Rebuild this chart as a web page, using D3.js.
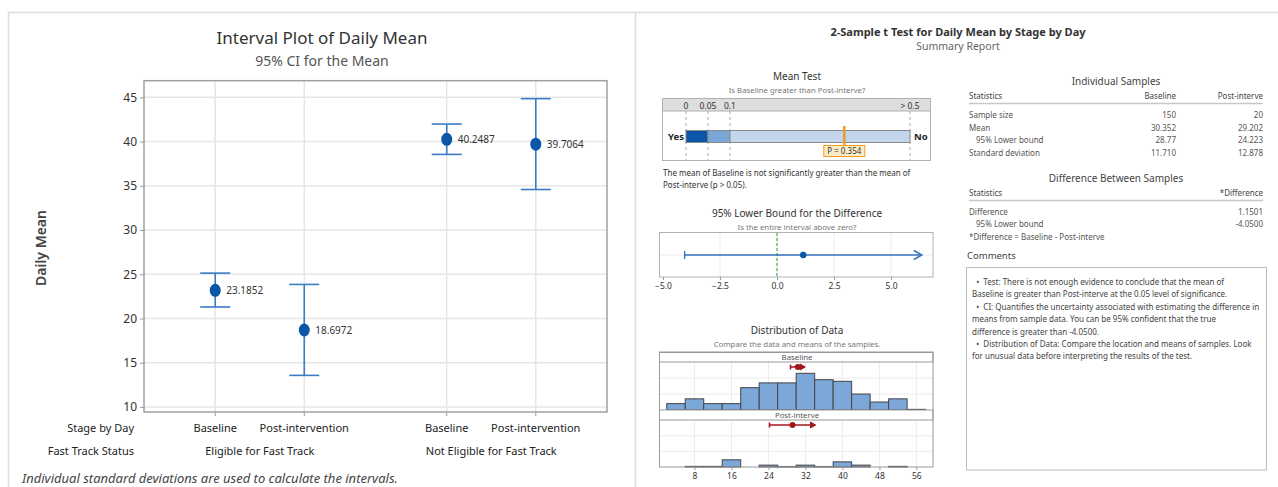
<!DOCTYPE html>
<html>
<head>
<meta charset="utf-8">
<script src="https://cdn.jsdelivr.net/npm/d3@7/dist/d3.min.js"></script>
<style>
  body { margin: 0; background: #fff; }
  svg { display: block; font-family: "Noto Sans", "Open Sans", sans-serif; }
</style>
</head>
<body>
<svg id="chart" width="1278" height="487"></svg>
<script>
// ---- interval plot data ----
var groups = ["Eligible for Fast Track", "Not Eligible for Fast Track"];
var stages = ["Baseline", "Post-intervention"];
var means = [23.1852, 18.6972, 40.2487, 39.7064];
var ciLow = [21.30, 13.57, 38.55, 34.58];
var ciHigh = [25.13, 23.85, 41.98, 44.85];
var yTicks = [10, 15, 20, 25, 30, 35, 40, 45];

// ---- summary report data ----
var pValue = 0.354;
var pTicks = [0, 0.05, 0.1, 0.5];
var pTickLabels = ["0", "0.05", "0.1", "> 0.5"];
var diffEst = 1.1501;
var diffLower = -4.0500;
var diffTicks = [-5, -2.5, 0, 2.5, 5];
var sampleNames = ["Baseline", "Post-interve"];
var sampleMeans = [30.352, 29.202];
var sampleLower = [28.77, 24.223];
var binEdges = [2, 6, 10, 14, 18, 22, 26, 30, 34, 38, 42, 46, 50, 54, 58];
var baselineCounts = [4, 7, 4, 4, 14, 17, 17, 23, 19, 18, 10, 5, 7, 0.4];
var postCounts = [0, 0.4, 0.4, 4.6, 0, 1.2, 0.2, 1.2, 0.2, 3.3, 1.2, 0, 0.4, 0];
var histTicks = [8, 16, 24, 32, 40, 48, 56];
var histGrid = [10, 20];

var statNames = ["Sample size", "Mean", "95% Lower bound", "Standard deviation"];
var baselineStats = ["150", "30.352", "28.77", "11.710"];
var postStats = ["20", "29.202", "24.223", "12.878"];
var diffNames = ["Difference", "95% Lower bound"];
var diffStats = ["1.1501", "-4.0500"];

var comments = [
  "  \u2022  Test: There is not enough evidence to conclude that the mean of",
  "Baseline is greater than Post-interve at the 0.05 level of significance.",
  "  \u2022  CI: Quantifies the uncertainty associated with estimating the difference in",
  "means from sample data. You can be 95% confident that the true",
  "difference is greater than -4.0500.",
  "  \u2022  Distribution of Data: Compare the location and means of samples. Look",
  "for unusual data before interpreting the results of the test."
];

var svg = d3.select("#chart");
svg.append("rect").attr("width", 1278).attr("height", 487).attr("fill", "#fff");

// panel borders
svg.append("path")
  .attr("d", "M8.5,487V12.5H635.5V487")
  .attr("fill", "none").attr("stroke", "#dcdcdc").attr("stroke-width", 1.5);
svg.append("line").attr("x1", 635).attr("x2", 1278).attr("y1", 12.5).attr("y2", 12.5)
  .attr("stroke", "#dcdcdc").attr("stroke-width", 1.5);

// ================= Interval plot =================
var plotL = 144, plotR = 607, plotT = 80.7, plotB = 412;

var xGroup = d3.scaleBand().domain(groups).range([plotL, plotR]);
var xStage = d3.scalePoint().domain(stages).range([0, xGroup.bandwidth()]).padding(0.8);
var y = d3.scaleLinear().domain([9.43, 46.88]).range([plotB, plotT]);

var points = means.map(function(m, i) {
  return { group: groups[Math.floor(i / 2)], stage: stages[i % 2], mean: m, lo: ciLow[i], hi: ciHigh[i] };
});
function px(d) { return xGroup(d.group) + xStage(d.stage); }

var left = svg.append("g");

left.append("text").attr("x", 322).attr("y", 44).attr("text-anchor", "middle")
  .style("font-size", "17px").attr("fill", "#333").text("Interval Plot of Daily Mean");
left.append("text").attr("x", 322).attr("y", 66).attr("text-anchor", "middle")
  .style("font-size", "14px").attr("fill", "#555").text("95% CI for the Mean");

// grid
left.selectAll(".hg").data(yTicks).enter().append("line")
  .attr("x1", plotL).attr("x2", plotR)
  .attr("y1", function(d) { return y(d); }).attr("y2", function(d) { return y(d); })
  .attr("stroke", "#e6e6e6").attr("stroke-width", 1.5);
left.selectAll(".vg").data(points).enter().append("line")
  .attr("x1", px).attr("x2", px).attr("y1", plotT).attr("y2", plotB)
  .attr("stroke", "#e6e6e6").attr("stroke-width", 1.5);

// y axis
var yAxis = left.append("g").attr("transform", "translate(" + plotL + ",0)")
  .call(d3.axisLeft(y).tickValues(yTicks).tickSize(4));
yAxis.select(".domain").remove();
yAxis.selectAll("line").attr("stroke", "#999");
yAxis.selectAll("text").style("font-size", "12px").attr("fill", "#333")
  .style("font-family", "'Noto Sans', sans-serif");

// x ticks
left.selectAll(".xt").data(points).enter().append("line")
  .attr("x1", px).attr("x2", px).attr("y1", plotB).attr("y2", plotB + 4)
  .attr("stroke", "#999");

// frame
left.append("rect").attr("x", plotL).attr("y", plotT)
  .attr("width", plotR - plotL).attr("height", plotB - plotT)
  .attr("fill", "none").attr("stroke", "#a0a0a0").attr("stroke-width", 1.5);

// error bars
var eb = left.selectAll(".eb").data(points).enter().append("g");
eb.append("line").attr("x1", px).attr("x2", px)
  .attr("y1", function(d) { return y(d.lo); }).attr("y2", function(d) { return y(d.hi); })
  .attr("stroke", "#3b7cc4").attr("stroke-width", 1.6);
eb.append("line").attr("x1", function(d) { return px(d) - 15; }).attr("x2", function(d) { return px(d) + 15; })
  .attr("y1", function(d) { return y(d.hi); }).attr("y2", function(d) { return y(d.hi); })
  .attr("stroke", "#3b7cc4").attr("stroke-width", 1.6);
eb.append("line").attr("x1", function(d) { return px(d) - 15; }).attr("x2", function(d) { return px(d) + 15; })
  .attr("y1", function(d) { return y(d.lo); }).attr("y2", function(d) { return y(d.lo); })
  .attr("stroke", "#3b7cc4").attr("stroke-width", 1.6);
eb.append("ellipse").attr("cx", px).attr("cy", function(d) { return y(d.mean); })
  .attr("rx", 5.5).attr("ry", 6.5).attr("fill", "#0b56a6");
eb.append("text").attr("x", function(d) { return px(d) + 11; })
  .attr("y", function(d) { return y(d.mean) + 4; })
  .style("font-size", "10px").attr("fill", "#333")
  .text(function(d) { return d.mean; });

// axis labels
left.append("text").attr("transform", "translate(46,248) rotate(-90)")
  .attr("text-anchor", "middle").style("font-size", "14px").style("font-weight", "600")
  .attr("fill", "#444").text("Daily Mean");

left.append("text").attr("x", 134).attr("y", 432).attr("text-anchor", "end")
  .style("font-size", "11px").attr("fill", "#222").text("Stage by Day");
left.append("text").attr("x", 134).attr("y", 455).attr("text-anchor", "end")
  .style("font-size", "11px").attr("fill", "#222").text("Fast Track Status");
left.selectAll(".sl").data(points).enter().append("text")
  .attr("x", px).attr("y", 432).attr("text-anchor", "middle")
  .style("font-size", "11px").attr("fill", "#222").text(function(d) { return d.stage; });
left.selectAll(".gl").data(groups).enter().append("text")
  .attr("x", function(d) { return xGroup(d) + xGroup.bandwidth() / 2; }).attr("y", 455)
  .attr("text-anchor", "middle").style("font-size", "11px").attr("fill", "#222")
  .text(function(d) { return d; });

left.append("text").attr("x", 22).attr("y", 483)
  .style("font-size", "13px").style("font-style", "italic").attr("fill", "#444")
  .text("Individual standard deviations are used to calculate the intervals.");

// ================= Summary report =================
var right = svg.append("g");
right.append("text").attr("x", 958).attr("y", 36).attr("text-anchor", "middle")
  .style("font-size", "11px").style("font-weight", "bold").attr("fill", "#333")
  .text("2-Sample t Test for Daily Mean by Stage by Day");
right.append("text").attr("x", 958).attr("y", 50).attr("text-anchor", "middle")
  .style("font-size", "10.5px").attr("fill", "#666").text("Summary Report");

function sectionTitle(x, yy, t, s) {
  right.append("text").attr("x", x).attr("y", yy).attr("text-anchor", "middle")
    .style("font-size", "10px").attr("fill", "#333").text(t);
  right.append("text").attr("x", x).attr("y", yy + 13).attr("text-anchor", "middle")
    .style("font-size", "7.8px").attr("fill", "#777").text(s);
}

// --- Mean test ---
sectionTitle(797, 80, "Mean Test", "Is Baseline greater than Post-interve?");
var pScale = d3.scaleLinear().domain(pTicks).range([686, 708, 730, 910]);
var mt = right.append("g");
mt.append("rect").attr("x", 662.5).attr("y", 98.5).attr("width", 268).attr("height", 12.5)
  .attr("fill", "#dedede");
mt.append("rect").attr("x", 662.5).attr("y", 98.5).attr("width", 268).attr("height", 62)
  .attr("fill", "none").attr("stroke", "#b0b0b0");
mt.append("line").attr("x1", 662.5).attr("x2", 930.5).attr("y1", 111).attr("y2", 111).attr("stroke", "#b0b0b0");
mt.selectAll(".pd").data(pTicks).enter().append("line")
  .attr("x1", pScale).attr("x2", pScale).attr("y1", 111).attr("y2", 160)
  .attr("stroke", "#aaa").attr("stroke-dasharray", "3,3");
mt.selectAll(".pl").data(pTicks).enter().append("text")
  .attr("x", pScale).attr("y", 108.5).attr("text-anchor", "middle")
  .style("font-size", "8.5px").attr("fill", "#333")
  .text(function(d, i) { return pTickLabels[i]; });
var segs = [[pTicks[0], pTicks[1], "#0b56a6"], [pTicks[1], pTicks[2], "#7aa6d8"], [pTicks[2], pTicks[3], "#c3d6ee"]];
mt.selectAll(".seg").data(segs).enter().append("rect")
  .attr("x", function(d) { return pScale(d[0]); }).attr("y", 130.5)
  .attr("width", function(d) { return pScale(d[1]) - pScale(d[0]); }).attr("height", 12)
  .attr("fill", function(d) { return d[2]; }).attr("stroke", "#8a8a8a");
mt.append("text").attr("x", 684).attr("y", 140).attr("text-anchor", "end")
  .style("font-size", "9.5px").style("font-weight", "bold").attr("fill", "#222").text("Yes");
mt.append("text").attr("x", 914).attr("y", 140)
  .style("font-size", "9.5px").style("font-weight", "bold").attr("fill", "#222").text("No");
mt.append("line").attr("x1", pScale(pValue)).attr("x2", pScale(pValue)).attr("y1", 126).attr("y2", 146)
  .attr("stroke", "#f39c1f").attr("stroke-width", 2.5);
mt.append("rect").attr("x", pScale(pValue) - 20.5).attr("y", 145.5).attr("width", 41).attr("height", 11)
  .attr("fill", "#fdebc6").attr("stroke", "#f39c1f");
mt.append("text").attr("x", pScale(pValue)).attr("y", 154).attr("text-anchor", "middle")
  .style("font-size", "8px").attr("fill", "#333").text("P = " + pValue);
mt.append("text").attr("x", 663).attr("y", 176).style("font-size", "8px").attr("fill", "#333")
  .text("The mean of Baseline is not significantly greater than the mean of");
mt.append("text").attr("x", 663).attr("y", 188).style("font-size", "8px").attr("fill", "#333")
  .text("Post-interve (p > 0.05).");

// --- Lower bound ---
sectionTitle(797, 217, "95% Lower Bound for the Difference", "Is the entire interval above zero?");
var xd = d3.scaleLinear().domain([-5.13, 6.84]).range([660, 933]);
var lb = right.append("g");
lb.selectAll(".lg").data(diffTicks.slice(1)).enter().append("line")
  .attr("x1", xd).attr("x2", xd).attr("y1", 233).attr("y2", 277).attr("stroke", "#ececec");
lb.append("line").attr("x1", 660).attr("x2", 933).attr("y1", 255).attr("y2", 255).attr("stroke", "#ececec");
lb.append("rect").attr("x", 659.5).attr("y", 232.5).attr("width", 273.5).attr("height", 44.5)
  .attr("fill", "none").attr("stroke", "#b0b0b0");
lb.append("line").attr("x1", xd(0)).attr("x2", xd(0)).attr("y1", 233).attr("y2", 277)
  .attr("stroke", "#4caf50").attr("stroke-width", 1.2).attr("stroke-dasharray", "3,2");
var diffEnd = diffEst + (diffEst - diffLower);
lb.append("line").attr("x1", xd(diffLower)).attr("x2", xd(diffEnd)).attr("y1", 255).attr("y2", 255)
  .attr("stroke", "#3571bb").attr("stroke-width", 1.3);
lb.append("line").attr("x1", xd(diffLower)).attr("x2", xd(diffLower)).attr("y1", 251).attr("y2", 259)
  .attr("stroke", "#3571bb").attr("stroke-width", 1.3);
lb.append("path")
  .attr("d", "M" + (xd(diffEnd) - 8) + ",250.5L" + xd(diffEnd) + ",255L" + (xd(diffEnd) - 8) + ",259.5")
  .attr("fill", "none").attr("stroke", "#3571bb").attr("stroke-width", 1.5);
lb.append("circle").attr("cx", xd(diffEst)).attr("cy", 255).attr("r", 3.2).attr("fill", "#0b56a6");
var lbAxis = lb.append("g").attr("transform", "translate(0,277)")
  .call(d3.axisBottom(xd).tickValues(diffTicks).tickFormat(d3.format(".1f")).tickSize(3));
lbAxis.select(".domain").remove();
lbAxis.selectAll("line").attr("stroke", "#999");
lbAxis.selectAll("text").style("font-size", "8.5px").attr("fill", "#333")
  .style("font-family", "'Noto Sans', sans-serif");

// --- Distribution of data ---
sectionTitle(797, 334, "Distribution of Data", "Compare the data and means of the samples.");
var xh = d3.scaleLinear().domain([0.43, 59.6]).range([659.5, 933]);
var panels = [
  { name: sampleNames[0], counts: baselineCounts, mean: sampleMeans[0], lower: sampleLower[0], top: 362, bottom: 410 },
  { name: sampleNames[1], counts: postCounts, mean: sampleMeans[1], lower: sampleLower[1], top: 420, bottom: 467 }
];
var dist = right.append("g");
panels.forEach(function(p) {
  var yh = d3.scaleLinear().domain([0, 30.1]).range([p.bottom, p.top]);
  dist.selectAll(null).data(histTicks).enter().append("line")
    .attr("x1", xh).attr("x2", xh).attr("y1", p.top).attr("y2", p.bottom).attr("stroke", "#ececec");
  dist.selectAll(null).data(histGrid).enter().append("line")
    .attr("x1", 659.5).attr("x2", 933).attr("y1", yh).attr("y2", yh).attr("stroke", "#ececec");
  dist.selectAll(null).data(p.counts).enter().append("rect")
    .attr("x", function(d, i) { return xh(binEdges[i]); })
    .attr("width", function(d, i) { return xh(binEdges[i + 1]) - xh(binEdges[i]); })
    .attr("y", function(d) { return yh(d); })
    .attr("height", function(d) { return p.bottom - yh(d); })
    .attr("fill", "#7ba7d9").attr("stroke", "#444").attr("stroke-width", 1)
    .style("display", function(d) { return d > 0 ? null : "none"; });
  // strip
  dist.append("rect").attr("x", 659.5).attr("y", p.top - 10).attr("width", 273.5).attr("height", 10)
    .attr("fill", "#fff").attr("stroke", "#999");
  dist.append("text").attr("x", 797).attr("y", p.top - 2).attr("text-anchor", "middle")
    .style("font-size", "7.8px").attr("fill", "#555").text(p.name);
  // mean marker
  var my = p.top + 5;
  var endV = p.mean + (p.mean - p.lower);
  dist.append("line").attr("x1", xh(p.lower)).attr("x2", xh(endV)).attr("y1", my).attr("y2", my)
    .attr("stroke", "#a3171c").attr("stroke-width", 1.5);
  dist.append("line").attr("x1", xh(p.lower)).attr("x2", xh(p.lower)).attr("y1", my - 2.5).attr("y2", my + 2.5)
    .attr("stroke", "#a3171c").attr("stroke-width", 1.5);
  dist.append("path")
    .attr("d", "M" + (xh(endV) - 5) + "," + (my - 3) + "L" + xh(endV) + "," + my + "L" + (xh(endV) - 5) + "," + (my + 3) + "Z")
    .attr("fill", "#a3171c").attr("stroke", "#a3171c");
  dist.append("circle").attr("cx", xh(p.mean)).attr("cy", my).attr("r", 3).attr("fill", "#a3171c");
});
dist.append("rect").attr("x", 659.5).attr("y", 352.5).attr("width", 273.5).attr("height", 114.5)
  .attr("fill", "none").attr("stroke", "#999");
var hAxis = dist.append("g").attr("transform", "translate(0,467)")
  .call(d3.axisBottom(xh).tickValues(histTicks).tickSize(3));
hAxis.select(".domain").remove();
hAxis.selectAll("line").attr("stroke", "#999");
hAxis.selectAll("text").style("font-size", "8.5px").attr("fill", "#333")
  .style("font-family", "'Noto Sans', sans-serif");

// --- tables ---
var tb = right.append("g");
var colStat = 969, colB = 1176, colP = 1263;
tb.append("text").attr("x", 1116).attr("y", 85).attr("text-anchor", "middle")
  .style("font-size", "10px").attr("fill", "#444").text("Individual Samples");
function headerRow(yy, cells) {
  tb.append("text").attr("x", colStat).attr("y", yy).style("font-size", "8px").attr("fill", "#444").text("Statistics");
  cells.forEach(function(c) {
    tb.append("text").attr("x", c[0]).attr("y", yy).attr("text-anchor", "end")
      .style("font-size", "8px").attr("fill", "#444").text(c[1]);
  });
  tb.append("line").attr("x1", colStat).attr("x2", colP).attr("y1", yy + 5).attr("y2", yy + 5)
    .attr("stroke", "#c8c8c8").attr("stroke-width", 1.5);
}
headerRow(98.5, [[colB, sampleNames[0]], [colP, sampleNames[1]]]);
var rowY = d3.scalePoint().domain(statNames).range([118, 155.5]);
statNames.forEach(function(n, i) {
  tb.append("text").attr("x", n.indexOf("95%") === 0 ? colStat + 7 : colStat).attr("y", rowY(n))
    .style("font-size", "8px").attr("fill", "#555").text(n);
  tb.append("text").attr("x", colB).attr("y", rowY(n)).attr("text-anchor", "end")
    .style("font-size", "8px").attr("fill", "#555").text(baselineStats[i]);
  tb.append("text").attr("x", colP).attr("y", rowY(n)).attr("text-anchor", "end")
    .style("font-size", "8px").attr("fill", "#555").text(postStats[i]);
});
tb.append("text").attr("x", 1116).attr("y", 182).attr("text-anchor", "middle")
  .style("font-size", "10px").attr("fill", "#444").text("Difference Between Samples");
headerRow(195.5, [[colP, "*Difference"]]);
diffNames.forEach(function(n, i) {
  var yy = 214.5 + i * 12.3;
  tb.append("text").attr("x", i === 1 ? colStat + 7 : colStat).attr("y", yy)
    .style("font-size", "8px").attr("fill", "#555").text(n);
  tb.append("text").attr("x", colP).attr("y", yy).attr("text-anchor", "end")
    .style("font-size", "8px").attr("fill", "#555").text(diffStats[i]);
});
tb.append("text").attr("x", colStat).attr("y", 239.5)
  .style("font-size", "8px").attr("fill", "#555").text("*Difference = Baseline - Post-interve");

// --- comments ---
tb.append("text").attr("x", 967).attr("y", 259).style("font-size", "9.5px").attr("fill", "#444").text("Comments");
tb.append("rect").attr("x", 966.5).attr("y", 267.5).attr("width", 300).attr("height", 202.5)
  .attr("fill", "none").attr("stroke", "#bdbdbd");
tb.selectAll(".cm").data(comments).enter().append("text")
  .attr("x", 972).attr("y", function(d, i) { return 285 + i * 12.4; })
  .attr("xml:space", "preserve").style("white-space", "pre")
  .style("font-size", "8px").attr("fill", "#444").text(function(d) { return d; });
</script>
</body>
</html>
